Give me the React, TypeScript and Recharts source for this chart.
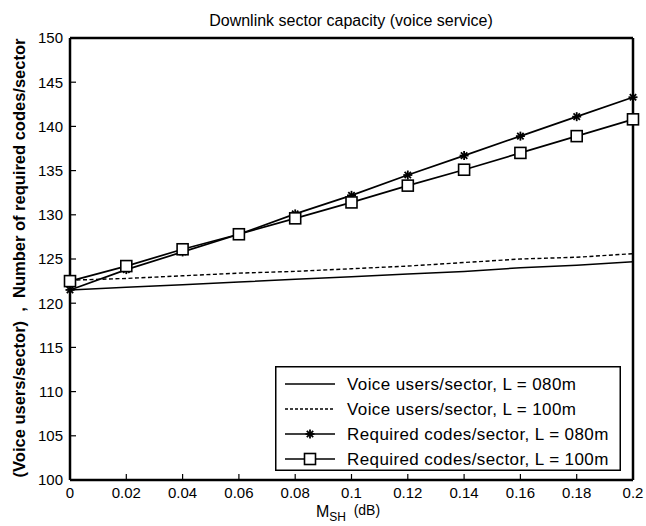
import { Legend, Line, LineChart, XAxis, YAxis } from "recharts";

const msh = [0, 0.02, 0.04, 0.06, 0.08, 0.1, 0.12, 0.14, 0.16, 0.18, 0.2];
const voice80 = [121.5, 121.8, 122.1, 122.4, 122.7, 123.0, 123.3, 123.6, 124.0, 124.3, 124.7];
const voice100 = [122.6, 122.8, 123.1, 123.4, 123.6, 123.9, 124.2, 124.6, 125.0, 125.2, 125.6];
const codes80 = [121.5, 123.8, 125.8, 127.8, 130.1, 132.2, 134.5, 136.7, 138.9, 141.1, 143.3];
const codes100 = [122.5, 124.2, 126.1, 127.8, 129.6, 131.4, 133.3, 135.1, 137.0, 138.9, 140.8];

const xTicks = [0, 0.02, 0.04, 0.06, 0.08, 0.1, 0.12, 0.14, 0.16, 0.18, 0.2];
const yTicks = [100, 105, 110, 115, 120, 125, 130, 135, 140, 145, 150];

const legendNames = [
  "Voice users/sector, L = 080m",
  "Voice users/sector, L = 100m",
  "Required codes/sector, L = 080m",
  "Required codes/sector, L = 100m",
];

const data = msh.map((x, i) => ({
  x,
  voice80: voice80[i],
  voice100: voice100[i],
  codes80: codes80[i],
  codes100: codes100[i],
}));

const FONT = "'Liberation Sans', Arial, Helvetica, sans-serif";
const BLACK = "#000";
const NB = "\u00A0";

const Star = ({ cx, cy }: any) => {
  if (cx == null || cy == null) return null;
  const r = 4.5;
  const d = 3.2;
  return (
    <g stroke={BLACK} strokeWidth={1.8}>
      <line x1={cx - r} y1={cy} x2={cx + r} y2={cy} />
      <line x1={cx} y1={cy - r} x2={cx} y2={cy + r} />
      <line x1={cx - d} y1={cy - d} x2={cx + d} y2={cy + d} />
      <line x1={cx - d} y1={cy + d} x2={cx + d} y2={cy - d} />
    </g>
  );
};

const Square = ({ cx, cy }: any) => {
  if (cx == null || cy == null) return null;
  return (
    <rect x={cx - 5.5} y={cy - 5.5} width={11} height={11} fill="#fff" stroke={BLACK} strokeWidth={1.6} />
  );
};

// legend box drawn inside the plot, lower right
const LegendBox = () => (
  <svg width={346} height={105} style={{ display: "block" }}>
    <rect x={0.75} y={0.75} width={344.5} height={103.5} fill="#fff" stroke={BLACK} strokeWidth={1.5} />
    {legendNames.map((name, i) => {
      const y = 18 + i * 25;
      return (
        <g key={name}>
          <line
            x1={10}
            x2={60}
            y1={y}
            y2={y}
            stroke={BLACK}
            strokeWidth={i === 1 ? 1.3 : 1.6}
            strokeDasharray={i === 1 ? "3 2" : undefined}
          />
          {i === 2 && <Star cx={35} cy={y} />}
          {i === 3 && <Square cx={35} cy={y} />}
          <text x={72} y={y + 6} fontFamily={FONT} fontSize={17} letterSpacing={0.4} fill={BLACK}>
            {name}
          </text>
        </g>
      );
    })}
  </svg>
);

const fmtX = (v: number) => String(Number(v.toFixed(2)));

export default function App() {
  return (
    <div style={{ position: "absolute", left: 0, top: 0, background: "#fff" }}>
      <LineChart
        width={646}
        height={526}
        data={data}
        margin={{ top: 37, right: 12, left: 0, bottom: 0 }}
        style={{ fontFamily: FONT }}
      >
        <text x={351} y={26} textAnchor="middle" fontFamily={FONT} fontSize={16} fill={BLACK}>
          Downlink sector capacity (voice service)
        </text>
        <text
          x={25}
          y={258}
          transform="rotate(-90 25 258)"
          textAnchor="middle"
          fontFamily={FONT}
          fontSize={16.5}
          fontWeight="bold"
          fill={BLACK}
        >
          {`(Voice users/sector)${NB}${NB},${NB}${NB}Number of required codes/sector`}
        </text>
        <text x={348} y={517} textAnchor="middle" fontFamily={FONT} fontSize={16} fill={BLACK}>
          <tspan>M</tspan>
          <tspan dy={4} fontSize={12}>SH</tspan>
          <tspan dy={-6} fontSize={14}>{`${NB}${NB}(dB)`}</tspan>
        </text>
        <XAxis
          dataKey="x"
          type="number"
          domain={[0, 0.2]}
          ticks={xTicks}
          tickFormatter={fmtX}
          height={46}
          tickSize={-6}
          tickMargin={13}
          axisLine={{ stroke: BLACK, strokeWidth: 2.5 }}
          tickLine={{ stroke: BLACK, strokeWidth: 1.2 }}
          tick={{ fill: BLACK, fontSize: 15, fontFamily: FONT }}
          interval={0}
        />
        <XAxis
          xAxisId="top"
          orientation="top"
          dataKey="x"
          type="number"
          domain={[0, 0.2]}
          ticks={xTicks}
          height={1}
          tickSize={-6}
          tick={false}
          axisLine={{ stroke: BLACK, strokeWidth: 2.5 }}
          tickLine={{ stroke: BLACK, strokeWidth: 1.2 }}
          interval={0}
        />
        <YAxis
          type="number"
          domain={[100, 150]}
          ticks={yTicks}
          width={70}
          tickSize={-6}
          tickMargin={13}
          axisLine={{ stroke: BLACK, strokeWidth: 2.5 }}
          tickLine={{ stroke: BLACK, strokeWidth: 1.2 }}
          tick={{ fill: BLACK, fontSize: 15, fontFamily: FONT }}
          interval={0}
        />
        <YAxis
          yAxisId="right"
          orientation="right"
          type="number"
          domain={[100, 150]}
          ticks={yTicks}
          width={1}
          tickSize={-6}
          tick={false}
          axisLine={{ stroke: BLACK, strokeWidth: 2.5 }}
          tickLine={{ stroke: BLACK, strokeWidth: 1.2 }}
          interval={0}
        />
        <Line
          dataKey="voice80"
          name={legendNames[0]}
          stroke={BLACK}
          strokeWidth={1.5}
          dot={false}
          isAnimationActive={false}
        />
        <Line
          dataKey="voice100"
          name={legendNames[1]}
          stroke={BLACK}
          strokeWidth={1.4}
          strokeDasharray="4 2.5"
          dot={false}
          isAnimationActive={false}
        />
        <Line
          dataKey="codes80"
          name={legendNames[2]}
          stroke={BLACK}
          strokeWidth={1.7}
          dot={<Star />}
          isAnimationActive={false}
        />
        <Line
          dataKey="codes100"
          name={legendNames[3]}
          stroke={BLACK}
          strokeWidth={1.7}
          dot={<Square />}
          isAnimationActive={false}
        />
        <Legend
          layout="horizontal"
          verticalAlign="middle"
          align="center"
          content={() => <LegendBox />}
          wrapperStyle={{ position: "absolute", left: 275, top: 366, width: 346, height: 105 }}
        />
      </LineChart>
    </div>
  );
}
